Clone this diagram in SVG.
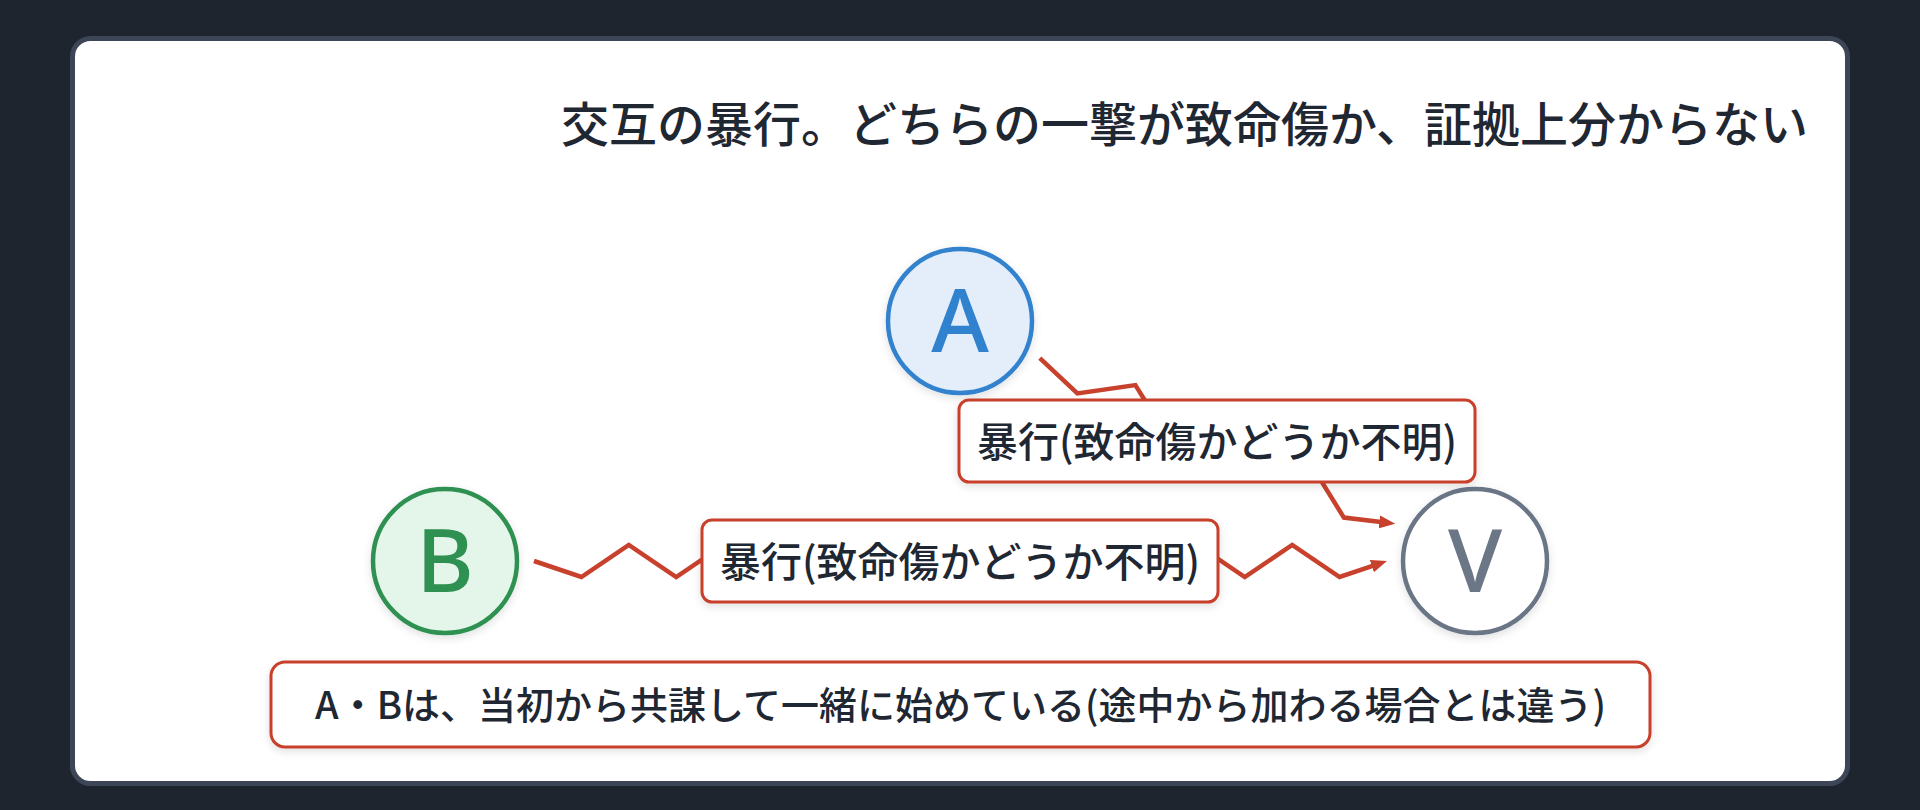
<svg xmlns="http://www.w3.org/2000/svg" width="1920" height="810" viewBox="0 0 1920 810">
  <style>
    .jp { font-family: "Noto Sans CJK JP", "Noto Sans", sans-serif; fill: #1f2733; }
    .title { font-size: 48px; font-weight: 500; }
    .lbl { font-size: 41px; font-weight: 500; }
    .note { font-size: 38px; font-weight: 500; }
    .letter { font-family: "Noto Sans", "Liberation Sans", sans-serif; font-size: 88px; font-weight: 500; text-anchor: middle; }
    .box { fill: #ffffff; stroke: #c8412c; stroke-width: 3; }
    .edge { fill: none; stroke: #c8412c; stroke-width: 4.5; stroke-linejoin: miter; }
  </style>
  <defs>
    <filter id="shadow" x="-20%" y="-20%" width="140%" height="150%">
      <feDropShadow dx="0" dy="3" stdDeviation="4" flood-color="#000000" flood-opacity="0.12"/>
    </filter>
    <marker id="arrow" markerUnits="userSpaceOnUse" markerWidth="18" markerHeight="14" refX="8" refY="6.5" orient="auto">
      <path d="M0,0 L16,6.5 L0,13 z" fill="#c8412c"/>
    </marker>
  </defs>

  <rect x="0" y="0" width="1920" height="810" fill="#1f252f"/>
  <rect id="card" x="72.5" y="38.5" width="1775" height="745" rx="18" ry="18" fill="#ffffff" stroke="#3c4656" stroke-width="5"/>

  <text id="title" class="jp title" x="1808" y="142" text-anchor="end">交互の暴行。どちらの一撃が致命傷か、証拠上分からない</text>

  <g id="connectors">
    <polyline id="edge-A-V" class="edge" marker-end="url(#arrow)"
      points="1039.8,358.2 1077.4,393.4 1135.4,385.1 1166.2,434.8 1224.3,426.5 1255.1,476.2 1313.1,467.9 1343.9,517.6 1387.3,522.8"/>
    <polyline id="edge-B-V" class="edge" marker-end="url(#arrow)"
      points="534,561 581.4,577 628.8,545 676.2,577 723.6,545 770.9,577 818.3,545 865.7,577 913.1,545 960.5,577 1007.9,545 1055.3,577 1102.7,545 1150,577 1197.4,545 1244.8,577 1292.2,545 1339.6,577 1379.4,563.6"/>
  </g>

  <g id="node-A">
    <circle cx="960" cy="321" r="72" fill="#e4eefa" stroke="#3182ce" stroke-width="4.5" filter="url(#shadow)"/>
    <text class="letter" x="960" y="352" fill="#3182ce">A</text>
  </g>
  <g id="node-B">
    <circle cx="445" cy="561" r="72" fill="#e4f5e9" stroke="#2f9151" stroke-width="4.5" filter="url(#shadow)"/>
    <text class="letter" x="445" y="592" fill="#2f9151">B</text>
  </g>
  <g id="node-V">
    <circle cx="1475" cy="561" r="72" fill="#ffffff" stroke="#6b7686" stroke-width="4.5" filter="url(#shadow)"/>
    <text class="letter" x="1475" y="592" fill="#6b7686">V</text>
  </g>

  <g id="label-A-V">
    <rect class="box" x="959" y="400" width="516" height="82" rx="10" ry="10" filter="url(#shadow)"/>
    <text class="jp lbl" x="1217" y="456.5" text-anchor="middle">暴行(致命傷かどうか不明)</text>
  </g>
  <g id="label-B-V">
    <rect class="box" x="702" y="520" width="516" height="82" rx="10" ry="10" filter="url(#shadow)"/>
    <text class="jp lbl" x="960" y="576.5" text-anchor="middle">暴行(致命傷かどうか不明)</text>
  </g>

  <g id="note">
    <rect class="box" x="271" y="662" width="1379" height="85" rx="14" ry="14" filter="url(#shadow)"/>
    <text class="jp note" x="960.5" y="719" text-anchor="middle">A・Bは、当初から共謀して一緒に始めている(途中から加わる場合とは違う)</text>
  </g>
</svg>
